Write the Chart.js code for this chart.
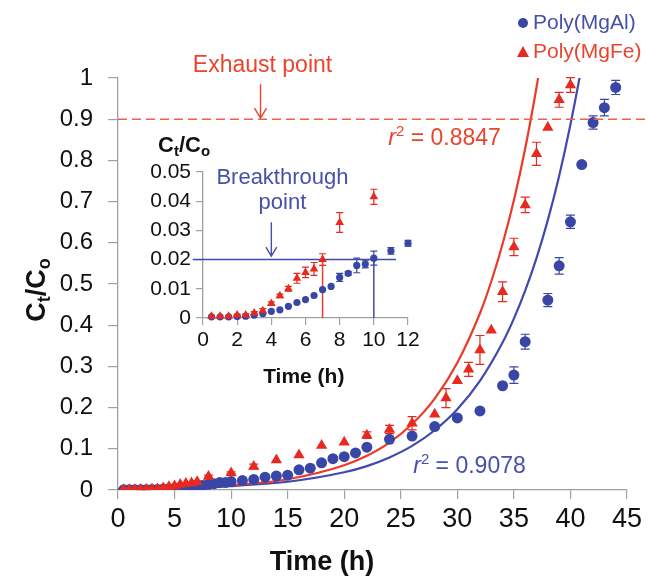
<!DOCTYPE html>
<html>
<head>
<meta charset="utf-8">
<script src="https://cdn.jsdelivr.net/npm/chart.js@4.4.0/dist/chart.umd.min.js"></script>
<style>
  html, body { margin: 0; padding: 0; background: #fff; }
  #wrap { position: relative; width: 648px; height: 580px; }
  #main { position: absolute; left: 0; top: 0; }
  #inset { position: absolute; left: 130px; top: 110px; }
</style>
</head>
<body>
<div id="wrap">
  <canvas id="main" width="648" height="580"></canvas>
  <canvas id="inset" width="300" height="290"></canvas>
</div>
<script>
// Poly(MgAl) - blue circles
const timeMgAl = [0.5, 1, 1.5, 2, 2.5, 3, 3.5, 4, 4.5, 5, 5.5, 6, 6.5, 7, 7.5, 8, 8.5, 9, 9.5, 10,
  11, 12, 13, 14, 15, 16, 17, 18, 19, 20, 21, 22, 24, 26, 28, 30, 32, 34, 35, 36, 38, 39, 40, 41, 42, 43, 44];
const valMgAl = [0.0004, 0.0004, 0.0004, 0.0005, 0.0006, 0.001, 0.0015, 0.0023, 0.0028, 0.004, 0.0053, 0.0063, 0.0077, 0.0097, 0.0108, 0.0139, 0.0153, 0.018, 0.0185, 0.0205,
  0.023, 0.0256, 0.031, 0.034, 0.036, 0.049, 0.053, 0.066, 0.076, 0.081, 0.090, 0.104, 0.123, 0.131, 0.154, 0.175, 0.192, 0.253, 0.279, 0.36, 0.461, 0.544, 0.651, 0.79, 0.892, 0.928, 0.977];
const errMgAl = [0, 0, 0, 0, 0, 0, 0, 0, 0, 0, 0, 0, 0, 0, 0, 0.0014, 0.0006, 0.0025, 0.0013, 0.0024,
  0.0011, 0.001, 0, 0, 0, 0, 0, 0, 0, 0, 0, 0, 0, 0, 0, 0, 0, 0, 0.02, 0.018, 0.016, 0.02, 0.016, 0, 0.016, 0.02, 0.017];

// Poly(MgFe) - red triangles
const timeMgFe = [0.5, 1, 1.5, 2, 2.5, 3, 3.5, 4, 4.5, 5, 5.5, 6, 6.5, 7, 8, 10, 12, 14, 16, 18,
  20, 22, 24, 26, 28, 29, 30, 31, 32, 33, 34, 35, 36, 37, 38, 39, 40];
const valMgFe = [0.0006, 0.0006, 0.0006, 0.001, 0.001, 0.0017, 0.0025, 0.005, 0.0076, 0.010, 0.0136, 0.0156, 0.0168, 0.020, 0.0327, 0.0415, 0.057, 0.073, 0.085, 0.108,
  0.116, 0.133, 0.147, 0.162, 0.184, 0.223, 0.265, 0.293, 0.34, 0.388, 0.481, 0.59, 0.692, 0.816, 0.88, 0.947, 0.983];
const errMgFe = [0, 0, 0, 0.0003, 0.0004, 0.0005, 0.0007, 0.0005, 0.0006, 0.0008, 0.0017, 0.0018, 0.0022, 0.002, 0.0034, 0.0026, 0.006, 0, 0, 0,
  0, 0.008, 0.01, 0.016, 0, 0.023, 0, 0.017, 0.035, 0, 0.024, 0.021, 0.019, 0.028, 0, 0.018, 0.018];

// fitted curves
const fitTimeMgFe = [0, 5, 10, 15, 20, 22, 24, 26, 28, 30, 32, 33, 34, 35, 36, 37, 37.5];
const fitMgFe = [0.0022, 0.0051, 0.0115, 0.026, 0.060, 0.083, 0.115, 0.160, 0.222, 0.309, 0.429, 0.506, 0.597, 0.703, 0.829, 0.977, 1.06];
const fitTimeMgAl = [0, 5, 10, 15, 20, 22, 24, 26, 28, 30, 32, 34, 35, 36, 37, 38, 39, 40, 41, 41.5];
const fitMgAl = [0.0021, 0.0045, 0.0095, 0.020, 0.043, 0.058, 0.079, 0.107, 0.145, 0.196, 0.265, 0.358, 0.416, 0.484, 0.563, 0.655, 0.762, 0.887, 1.03, 1.11];

const r2MgFe = '0.8847';
const r2MgAl = '0.9078';
const exhaustLevel = 0.9;
const breakLevel = 0.02;
const breakTimeMgFe = 7;
const breakTimeMgAl = 10;

const BLUE = '#3a46a6';
const RED = '#e8291f';
const BLUE_TXT = '#4650aa';
const RED_TXT = '#e8452f';
const AXIS = '#a0a0a0';
const FONT = '"Liberation Sans", Arial, Helvetica, sans-serif';

function pts(xs, ys) {
  return xs.map((x, i) => ({ x: x, y: ys[i] }));
}

function richText(ctx, parts, x, y, align) {
  let w = 0;
  parts.forEach(p => { ctx.font = p.font; p.w = ctx.measureText(p.t).width; w += p.w; });
  let cx = align === 'center' ? x - w / 2 : (align === 'right' ? x - w : x);
  ctx.textAlign = 'left';
  ctx.textBaseline = 'middle';
  parts.forEach(p => { ctx.font = p.font; ctx.fillText(p.t, cx, y + (p.dy || 0)); cx += p.w; });
}

function arrowDown(ctx, x, y1, y2, head) {
  ctx.beginPath();
  ctx.moveTo(x, y1); ctx.lineTo(x, y2);
  ctx.moveTo(x - head * 0.6, y2 - head); ctx.lineTo(x, y2); ctx.lineTo(x + head * 0.6, y2 - head);
  ctx.stroke();
}

const errorBars = {
  id: 'errorBars',
  beforeDatasetsDraw(chart, args, opts) {
    const ctx = chart.ctx;
    const ys = chart.scales.y;
    chart.data.datasets.forEach((ds, i) => {
      if (!ds.errors) return;
      const meta = chart.getDatasetMeta(i);
      ctx.save();
      ctx.strokeStyle = ds.borderColor;
      ctx.lineWidth = 1.2;
      ds.data.forEach((p, j) => {
        const e = ds.errors[j];
        if (!e || !meta.data[j]) return;
        const x = meta.data[j].x;
        const yt = ys.getPixelForValue(p.y + e), yb = ys.getPixelForValue(p.y - e);
        ctx.beginPath();
        ctx.moveTo(x, yt); ctx.lineTo(x, yb);
        ctx.moveTo(x - opts.cap, yt); ctx.lineTo(x + opts.cap, yt);
        ctx.moveTo(x - opts.cap, yb); ctx.lineTo(x + opts.cap, yb);
        ctx.stroke();
      });
      ctx.restore();
    });
  }
};

const mainDecor = {
  id: 'mainDecor',
  afterDraw(chart) {
    const ctx = chart.ctx;
    const xs = chart.scales.x, ys = chart.scales.y;
    ctx.save();
    // exhaust line
    const y9 = ys.getPixelForValue(exhaustLevel);
    ctx.strokeStyle = '#ee6242';
    ctx.lineWidth = 1.6;
    ctx.setLineDash([9, 5]);
    ctx.beginPath();
    ctx.moveTo(chart.chartArea.left, y9);
    ctx.lineTo(chart.width - 2, y9);
    ctx.stroke();
    ctx.setLineDash([]);
    const ex = xs.getPixelForValue(12.6);
    ctx.strokeStyle = RED_TXT;
    ctx.lineWidth = 1.4;
    arrowDown(ctx, ex, ys.getPixelForValue(0.985), y9 - 1, 10);
    ctx.fillStyle = RED_TXT;
    richText(ctx, [{ t: 'Exhaust point', font: '23px ' + FONT }], ex + 2, ys.getPixelForValue(1.03), 'center');

    // r2 labels
    ctx.fillStyle = RED_TXT;
    richText(ctx, [
      { t: 'r', font: 'italic 23px ' + FONT },
      { t: '2', font: '15px ' + FONT, dy: -7 },
      { t: ' = ' + r2MgFe, font: '23px ' + FONT }
    ], xs.getPixelForValue(23.9), ys.getPixelForValue(0.852), 'left');
    ctx.fillStyle = BLUE_TXT;
    richText(ctx, [
      { t: 'r', font: 'italic 23px ' + FONT },
      { t: '2', font: '15px ' + FONT, dy: -7 },
      { t: ' = ' + r2MgAl, font: '23px ' + FONT }
    ], xs.getPixelForValue(26.1), ys.getPixelForValue(0.057), 'left');

    // legend
    ctx.fillStyle = BLUE;
    ctx.beginPath(); ctx.arc(523, 23, 5, 0, Math.PI * 2); ctx.fill();
    ctx.fillStyle = BLUE_TXT;
    richText(ctx, [{ t: 'Poly(MgAl)', font: '21px ' + FONT }], 533, 23, 'left');
    ctx.fillStyle = RED;
    ctx.beginPath(); ctx.moveTo(523, 46); ctx.lineTo(529, 57); ctx.lineTo(517, 57); ctx.closePath(); ctx.fill();
    ctx.fillStyle = RED_TXT;
    richText(ctx, [{ t: 'Poly(MgFe)', font: '21px ' + FONT }], 533, 52, 'left');

    // axis titles
    ctx.fillStyle = '#111';
    richText(ctx, [{ t: 'Time (h)', font: 'bold 27px ' + FONT }], 322, 563, 'center');
    ctx.translate(38, 290);
    ctx.rotate(-Math.PI / 2);
    richText(ctx, [
      { t: 'C', font: 'bold 27px ' + FONT },
      { t: 't', font: 'bold 18px ' + FONT, dy: 7 },
      { t: '/C', font: 'bold 27px ' + FONT },
      { t: 'o', font: 'bold 18px ' + FONT, dy: 7 }
    ], 0, 0, 'center');
    ctx.restore();
  }
};

const insetDecor = {
  id: 'insetDecor',
  beforeDatasetsDraw(chart) {
    const ctx = chart.ctx;
    const xs = chart.scales.x, ys = chart.scales.y;
    ctx.save();
    ctx.lineWidth = 1.5;
    const y2 = ys.getPixelForValue(breakLevel);
    ctx.strokeStyle = '#4049ad';
    ctx.beginPath();
    ctx.moveTo(xs.getPixelForValue(-0.6), y2); ctx.lineTo(xs.getPixelForValue(11.3), y2);
    ctx.moveTo(xs.getPixelForValue(breakTimeMgAl), ys.getPixelForValue(0)); ctx.lineTo(xs.getPixelForValue(breakTimeMgAl), ys.getPixelForValue(0.0212));
    ctx.stroke();
    ctx.strokeStyle = '#ec3a28';
    ctx.beginPath();
    ctx.moveTo(xs.getPixelForValue(breakTimeMgFe), ys.getPixelForValue(0)); ctx.lineTo(xs.getPixelForValue(breakTimeMgFe), ys.getPixelForValue(0.0212));
    ctx.stroke();
    ctx.restore();
  },
  afterDraw(chart) {
    const ctx = chart.ctx;
    const xs = chart.scales.x, ys = chart.scales.y;
    ctx.save();
    ctx.fillStyle = BLUE_TXT;
    const bx = xs.getPixelForValue(4.65);
    richText(ctx, [{ t: 'Breakthrough', font: '22px ' + FONT }], bx, ys.getPixelForValue(0.0478), 'center');
    richText(ctx, [{ t: 'point', font: '22px ' + FONT }], bx, ys.getPixelForValue(0.0395), 'center');
    ctx.strokeStyle = BLUE_TXT;
    ctx.lineWidth = 1.4;
    arrowDown(ctx, xs.getPixelForValue(4), ys.getPixelForValue(0.0328), ys.getPixelForValue(0.0212), 9);
    ctx.fillStyle = '#111';
    richText(ctx, [
      { t: 'C', font: 'bold 22px ' + FONT },
      { t: 't', font: 'bold 15px ' + FONT, dy: 6 },
      { t: '/C', font: 'bold 22px ' + FONT },
      { t: 'o', font: 'bold 15px ' + FONT, dy: 6 }
    ], 28, 36, 'left');
    richText(ctx, [{ t: 'Time (h)', font: 'bold 21px ' + FONT }], xs.getPixelForValue(5.9), 267, 'center');
    ctx.restore();
  }
};

const fmt = v => String(Number(v.toFixed(3)));

function axisStyle(size, tickLen, pad, step) {
  return {
    ticks: { font: { size: size, family: FONT }, color: '#111', padding: pad, autoSkip: false, maxRotation: 0,
      stepSize: step, callback: fmt },
    grid: { drawOnChartArea: false, tickLength: tickLen, color: AXIS, lineWidth: 1.2 },
    border: { color: AXIS, width: 1.3 }
  };
}

new Chart(document.getElementById('main'), {
  type: 'scatter',
  data: {
    datasets: [
      { label: 'Poly(MgFe)', data: pts(timeMgFe, valMgFe), errors: errMgFe, pointStyle: 'triangle', pointRadius: 6.5,
        backgroundColor: RED, borderColor: RED, borderWidth: 0 },
      { label: 'Poly(MgAl)', data: pts(timeMgAl, valMgAl), errors: errMgAl, pointStyle: 'circle', pointRadius: 5.5,
        backgroundColor: BLUE, borderColor: BLUE, borderWidth: 0 },
      { label: 'fit MgFe', data: pts(fitTimeMgFe, fitMgFe), showLine: true, pointRadius: 0, borderColor: '#ec3a28',
        borderWidth: 2.2, cubicInterpolationMode: 'monotone' },
      { label: 'fit MgAl', data: pts(fitTimeMgAl, fitMgAl), showLine: true, pointRadius: 0, borderColor: '#4049ad',
        borderWidth: 2.2, cubicInterpolationMode: 'monotone' }
    ]
  },
  options: {
    responsive: false,
    devicePixelRatio: 1,
    animation: false,
    layout: { padding: { top: 78, right: 21, left: 0, bottom: 0 } },
    plugins: { legend: { display: false }, tooltip: { enabled: false }, errorBars: { cap: 4.5 } },
    scales: {
      x: Object.assign(axisStyle(27, 9, 4, 5), { type: 'linear', min: 0, max: 45, afterFit: s => { s.height = 90; } }),
      y: Object.assign(axisStyle(24, 10, 15, 0.1), { min: 0, max: 1, afterFit: s => { s.width = 118; } })
    }
  },
  plugins: [errorBars, mainDecor]
});

const insetFe = pts(timeMgFe, valMgFe).filter(p => p.x <= 12 && p.y <= 0.05);
const insetAl = pts(timeMgAl, valMgAl).filter(p => p.x <= 12 && p.y <= 0.05);

new Chart(document.getElementById('inset'), {
  type: 'scatter',
  data: {
    datasets: [
      { label: 'Poly(MgFe)', data: insetFe, errors: errMgFe.slice(0, insetFe.length), pointStyle: 'triangle', pointRadius: 5,
        backgroundColor: RED, borderColor: RED, borderWidth: 0, clip: false },
      { label: 'Poly(MgAl)', data: insetAl, errors: errMgAl.slice(0, insetAl.length), pointStyle: 'circle', pointRadius: 3.6,
        backgroundColor: BLUE, borderColor: BLUE, borderWidth: 0, clip: false }
    ]
  },
  options: {
    responsive: false,
    devicePixelRatio: 1,
    animation: false,
    layout: { padding: { top: 62, right: 22, left: 0, bottom: 0 } },
    plugins: { legend: { display: false }, tooltip: { enabled: false }, errorBars: { cap: 3.5 } },
    scales: {
      x: Object.assign(axisStyle(21, 7, 3, 2), { type: 'linear', min: 0, max: 12, afterFit: s => { s.height = 82; } }),
      y: Object.assign(axisStyle(21, 7, 5, 0.01), { min: 0, max: 0.05, afterFit: s => { s.width = 73; } })
    }
  },
  plugins: [errorBars, insetDecor]
});
</script>
</body>
</html>
